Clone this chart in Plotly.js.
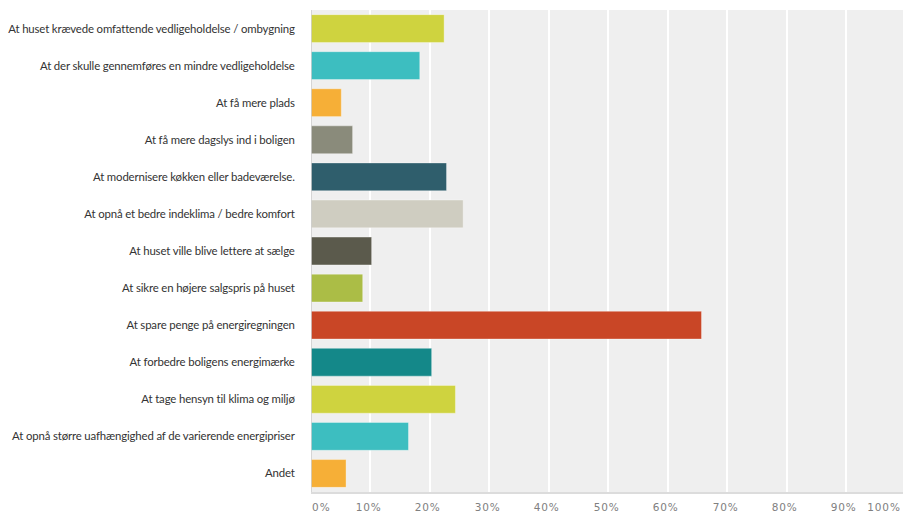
<!DOCTYPE html>
<html>
<head>
<meta charset="utf-8">
<script src="https://cdn.plot.ly/plotly-3.0.1.min.js"></script>
<style>
html,body{margin:0;padding:0;background:#fff;}
#chart{width:903px;height:512px;}
#chart .annotation-text{letter-spacing:0.9px;}
#chart .ytick text{letter-spacing:-0.15px;}
</style>
</head>
<body>
<div id="chart"></div>
<script>
const categories = [
  "At huset krævede omfattende vedligeholdelse / ombygning",
  "At der skulle gennemføres en mindre vedligeholdelse",
  "At få mere plads",
  "At få mere dagslys ind i boligen",
  "At modernisere køkken eller badeværelse.",
  "At opnå et bedre indeklima / bedre komfort",
  "At huset ville blive lettere at sælge",
  "At sikre en højere salgspris på huset",
  "At spare penge på energiregningen",
  "At forbedre boligens energimærke",
  "At tage hensyn til klima og miljø",
  "At opnå større uafhængighed af de varierende energipriser",
  "Andet"
];
const values = [22.4, 18.3, 5.1, 7.0, 22.8, 25.6, 10.2, 8.7, 65.7, 20.3, 24.3, 16.4, 5.9];
const barColors = ["#cfd33f", "#3dbec0", "#f6af37", "#8a8b7b", "#2f5e6c", "#cfcdc1", "#5b5a4c",
  "#abbd46", "#c94626", "#148889", "#cfd33f", "#3dbec0", "#f6af37"];
const tickVals = [0, 10, 20, 30, 40, 50, 60, 70, 80, 90, 100];
const tickLabels = ["0%", "10%", "20%", "30%", "40%", "50%", "60%", "70%", "80%", "90%", "100%"];

const trace = {
  type: "bar",
  orientation: "h",
  y: categories,
  x: values,
  marker: { color: barColors, line: { color: "rgba(255,255,255,0.35)", width: 1 } },
  hoverinfo: "x+y"
};

const tickFont = { family: "DejaVu Sans, Verdana, sans-serif", size: 10.5, color: "#808080" };
const last = tickVals.length - 1;
const annotations = tickVals.map((v, i) => ({
  x: i === 0 ? 0 : (i === last ? 1 : v),
  xref: (i === 0 || i === last) ? "paper" : "x",
  y: 0, yref: "paper",
  text: tickLabels[i], showarrow: false,
  xanchor: i === 0 ? "left" : (i === last ? "right" : "center"),
  xshift: i === 0 ? 0 : (i === last ? -2 : -2),
  yanchor: "middle", yshift: -15,
  font: tickFont
}));

const layout = {
  width: 903, height: 512,
  margin: { l: 311, r: 0, t: 10, b: 20 },
  paper_bgcolor: "#ffffff",
  plot_bgcolor: "#efefef",
  bargap: 0.25,
  showlegend: false,
  xaxis: {
    range: [0, 99.6],
    tickvals: tickVals,
    showticklabels: false,
    showgrid: true, gridcolor: "#ffffff", gridwidth: 2,
    zeroline: false,
    showline: true, linecolor: "#dcdcdc", linewidth: 1.5,
    fixedrange: true
  },
  yaxis: {
    autorange: "reversed",
    showgrid: false,
    zeroline: false,
    showline: false,
    ticks: "outside", ticklen: 13, tickcolor: "rgba(0,0,0,0)",
    tickfont: { family: "Lato, Liberation Sans, sans-serif", size: 11.4, color: "#333" },
    fixedrange: true
  },
  shapes: [{
    type: "line", xref: "x", yref: "paper", x0: 0, x1: 0, y0: 0, y1: 1,
    line: { color: "#cccccc", width: 1.5 }
  }],
  annotations: annotations
};

Plotly.newPlot("chart", [trace], layout, { displayModeBar: false, staticPlot: true });
</script>
</body>
</html>
